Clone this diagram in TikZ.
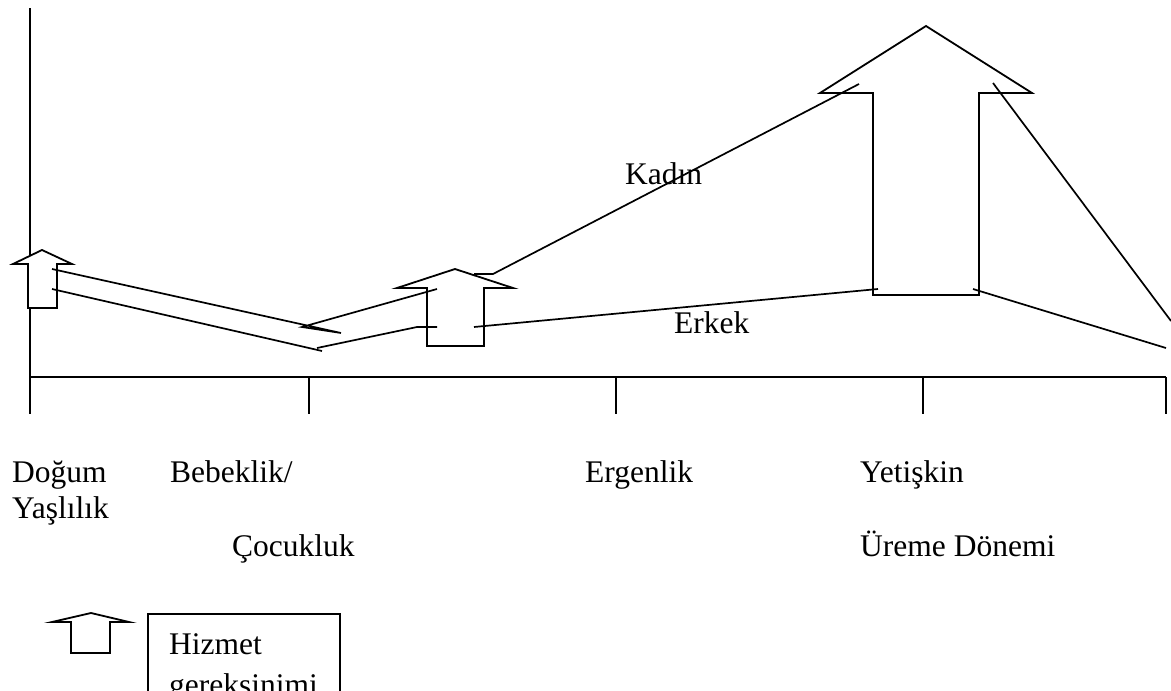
\documentclass[tikz,border=0pt]{standalone}
\usepackage{fontspec}
\setmainfont{Liberation Serif}
\begin{document}
\begin{tikzpicture}[x=1pt,y=-1pt,
  ln/.style={line width=1.8pt,line cap=round,line join=miter},
  thin ln/.style={line width=1.7pt},
  lbl/.style={anchor=base west,inner sep=0pt,font=\fontsize{31.5}{36}\selectfont},
  block arrow/.style={line width=1.8pt,line join=miter,fill=white}]
\clip (0,0) rectangle (1171,691);
\fill[white] (0,0) rectangle (1171,691);

% axes and period ticks
\coordinate (ytop) at (30,8);
\coordinate (o) at (30,377);
\coordinate (xend) at (1166,377);
\draw[ln,line cap=butt] (ytop) -- (o) -- (xend);
\foreach \t/\x in {t0/30,t1/309,t2/616,t3/923,t4/1166}{
  \coordinate (\t a) at (\x,377);
  \coordinate (\t b) at (\x,414);
  \draw[ln,line cap=butt] (\t a) -- (\t b);
}

% birth: service arrow
\draw[block arrow] (42,250) -- (72,264) -- (57,264) -- (57,308) -- (28,308) -- (28,264) -- (13,264) -- cycle;
% childhood: service arrow
\draw[block arrow] (455,269) -- (513,288) -- (484,288) -- (484,346) -- (427,346) -- (427,288) -- (397,288) -- cycle;
% adulthood: service arrow
\draw[block arrow] (926,26) -- (1032,93) -- (979,93) -- (979,295) -- (873,295) -- (873,93) -- (820,93) -- cycle;

% women's curve
\coordinate (k0) at (52,269);
\coordinate (k1) at (341,333);
\coordinate (k2) at (302,327);
\coordinate (k3) at (437,289);
\coordinate (k4) at (474,274);
\coordinate (k5) at (493,274);
\coordinate (k6) at (859,84);
\coordinate (k7) at (993,83);
\coordinate (k8) at (1171,321);
\draw[thin ln] (k0) -- (k1) -- (k2) -- (k3);
\draw[thin ln] (k4) -- (k5) -- (k6);
\draw[thin ln] (k7) -- (k8);

% men's curve
\coordinate (e0) at (52,289);
\coordinate (e1) at (322,351);
\coordinate (e2) at (317,348);
\coordinate (e3) at (417,327);
\coordinate (e4) at (437,327);
\coordinate (e5) at (474,327);
\coordinate (e6) at (878,289);
\coordinate (e7) at (973,289);
\coordinate (e8) at (1166,348);
\draw[thin ln] (e0) -- (e1);
\draw[thin ln] (e2) -- (e3) -- (e4);
\draw[thin ln] (e5) -- (e6);
\draw[thin ln] (e7) -- (e8);

% curve labels
\node[lbl] (kadin) at (625,184) {Kadın};
\node[lbl] (erkek) at (674,333) {Erkek};

% life periods
\node[lbl] (dogum) at (12,482) {Doğum};
\node[lbl] (yasli) at (12,518) {Yaşlılık};
\node[lbl] (bebek) at (170,482) {Bebeklik/};
\node[lbl] (cocuk) at (232,556) {Çocukluk};
\node[lbl] (ergen) at (585,482) {Ergenlik};
\node[lbl] (yetis) at (860,482) {Yetişkin};
\node[lbl] (ureme) at (860,556) {Üreme Dönemi};

% legend
\draw[block arrow] (91,613) -- (129,622) -- (110,622) -- (110,653) -- (71,653) -- (71,622) -- (52,622) -- cycle;
\draw[line width=1.8pt] (148,614) rectangle (340,720);
\node[lbl] (hizmet) at (169,654) {Hizmet};
\node[lbl] (gerek) at (169,695) {gereksinimi};
\end{tikzpicture}
\end{document}
